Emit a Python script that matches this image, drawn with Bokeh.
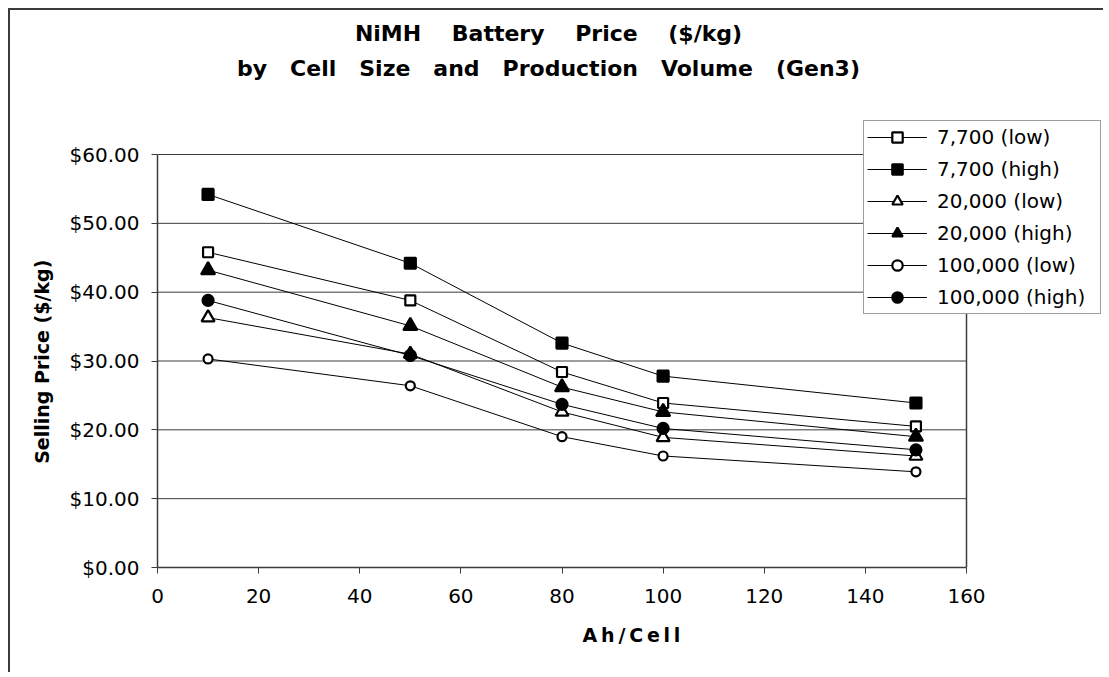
from bokeh.plotting import figure
from bokeh.models import (Label, Legend, LegendItem, FixedTicker,
                          NumeralTickFormatter, Range1d)
from bokeh.embed import file_html
from bokeh.resources import INLINE

# ---------------- data ----------------
ah_cell = [10, 50, 80, 100, 150]

series_names = ["7,700 (low)", "7,700 (high)", "20,000 (low)",
                "20,000 (high)", "100,000 (low)", "100,000 (high)"]

price_7700_low = [45.8, 38.8, 28.4, 23.9, 20.5]
price_7700_high = [54.2, 44.2, 32.6, 27.8, 23.9]
price_20000_low = [36.3, 31.0, 22.6, 18.9, 16.2]
price_20000_high = [43.2, 35.1, 26.2, 22.6, 19.0]
price_100000_low = [30.3, 26.4, 19.0, 16.2, 13.9]
price_100000_high = [38.8, 30.8, 23.7, 20.2, 17.1]

x_ticks = [0, 20, 40, 60, 80, 100, 120, 140, 160]
y_ticks = [0, 10, 20, 30, 40, 50, 60]

title_line1 = "NiMH\u00a0\u00a0\u00a0\u00a0Battery\u00a0\u00a0\u00a0\u00a0Price\u00a0\u00a0\u00a0\u00a0($/kg)"
title_line2 = "by\u00a0\u00a0\u00a0Cell\u00a0\u00a0\u00a0Size\u00a0\u00a0\u00a0and\u00a0\u00a0\u00a0Production\u00a0\u00a0\u00a0Volume\u00a0\u00a0\u00a0(Gen3)"
x_title = "A\u2009h\u2009/\u2009C\u2009e\u2009l\u2009l"
y_title = "Selling Price ($/kg)"

FONT = "DejaVu Sans"
INK = "#000000"
GRID = "#3c3c3c"

# ---------------- layout (pixels) ----------------
BORDER_L = 147          # canvas left edge -> plot area left
FRAME_W = 948           # drawing frame (covers legend area too)
FRAME_H = 557           # from canvas top down to x axis
BOTTOM = 107
PLOT_W_PX = 809         # width of the 0..160 axis span
PLOT_H_PX = 413         # height of the $0..$60 axis span
# the y-axis title is centred on the whole frame; pad its (upper) end so
# that the visible words sit centred on the $0..$60 span instead
Y_TITLE_PAD = "\u00a0" * 22

x_lo, x_hi = x_ticks[0], x_ticks[-1]
y_lo, y_hi = y_ticks[0], y_ticks[-1]
x_end = x_lo + (x_hi - x_lo) * FRAME_W / PLOT_W_PX
y_end = y_lo + (y_hi - y_lo) * FRAME_H / PLOT_H_PX

p = figure(width=BORDER_L + FRAME_W, height=FRAME_H + BOTTOM,
           x_range=Range1d(x_lo, x_end), y_range=Range1d(y_lo, y_end),
           output_backend="svg", toolbar_location=None,
           min_border_left=BORDER_L, min_border_right=0,
           min_border_top=0, min_border_bottom=BOTTOM,
           background_fill_color="white", border_fill_color="white")
p.styles = {"margin-left": "8px", "margin-top": "8px",
            "border-top": "2px solid #3a3a3a",
            "border-left": "2px solid #3a3a3a"}

# axes
p.xaxis.ticker = FixedTicker(ticks=x_ticks)
p.yaxis.ticker = FixedTicker(ticks=y_ticks)
p.xaxis.bounds = (x_lo, x_hi)
p.yaxis.bounds = (y_lo, y_hi)
p.yaxis.formatter = NumeralTickFormatter(format="$0.00")
for ax in (p.xaxis[0], p.yaxis[0]):
    ax.axis_line_color = GRID
    ax.axis_line_width = 1.5
    ax.major_tick_line_color = GRID
    ax.major_tick_in = 0
    ax.major_tick_out = 6
    ax.minor_tick_line_color = None
    ax.major_label_text_font = FONT
    ax.major_label_text_font_size = "20px"
    ax.major_label_text_color = INK
    ax.axis_label_text_font = FONT
    ax.axis_label_text_font_style = "bold"
    ax.axis_label_text_color = INK
p.xaxis.axis_label = x_title
p.xaxis.axis_label_text_font_size = "19px"
p.xaxis.major_label_standoff = 15
p.xaxis.axis_label_standoff = 18
p.yaxis.axis_label = y_title + Y_TITLE_PAD
p.yaxis.axis_label_text_font_size = "19px"
p.yaxis.major_label_standoff = 12
p.yaxis.axis_label_standoff = 14

p.xgrid.grid_line_color = None
p.ygrid.grid_line_color = None
p.outline_line_color = None

# horizontal gridlines over the plot area, and its right edge
p.segment(x0=[x_lo] * len(y_ticks), y0=y_ticks,
          x1=[x_hi] * len(y_ticks), y1=y_ticks,
          line_color=GRID, line_width=1)
p.segment(x0=[x_hi], y0=[y_lo], x1=[x_hi], y1=[y_hi],
          line_color=GRID, line_width=1.5)

# title (two lines), placed in screen units relative to the plot area
title_cx = 391
p.add_layout(Label(x=title_cx, y=534, x_units="screen", y_units="screen",
                   text=title_line1, text_align="center",
                   text_baseline="middle", text_font=FONT,
                   text_font_size="22px", text_font_style="bold",
                   text_color=INK))
p.add_layout(Label(x=title_cx, y=499, x_units="screen", y_units="screen",
                   text=title_line2, text_align="center",
                   text_baseline="middle", text_font=FONT,
                   text_font_size="22px", text_font_style="bold",
                   text_color=INK))

series = [
    (price_7700_low, "square", "white", 10),
    (price_7700_high, "square", INK, 11),
    (price_20000_low, "triangle", "white", 13),
    (price_20000_high, "triangle", INK, 14),
    (price_100000_low, "circle", "white", 9),
    (price_100000_high, "circle", INK, 11),
]

items = []
for name, (vals, marker, fill, size) in zip(series_names, series):
    lr = p.line(ah_cell, vals, line_color=INK, line_width=1)
    sr = p.scatter(ah_cell, vals, marker=marker, size=size,
                   fill_color=fill, line_color=INK, line_width=2.2)
    items.append(LegendItem(label=name, renderers=[lr, sr]))

legend = Legend(items=items, location=(706, 253),
                label_text_font=FONT, label_text_font_size="20px",
                label_text_color=INK, glyph_width=60, glyph_height=26,
                label_height=26, label_width=160, label_standoff=10,
                spacing=6, padding=3, margin=0,
                border_line_color=GRID, border_line_width=1.5,
                background_fill_color="white", background_fill_alpha=1.0)
p.add_layout(legend, "center")

open("out.html", "w").write(file_html(p, INLINE))
